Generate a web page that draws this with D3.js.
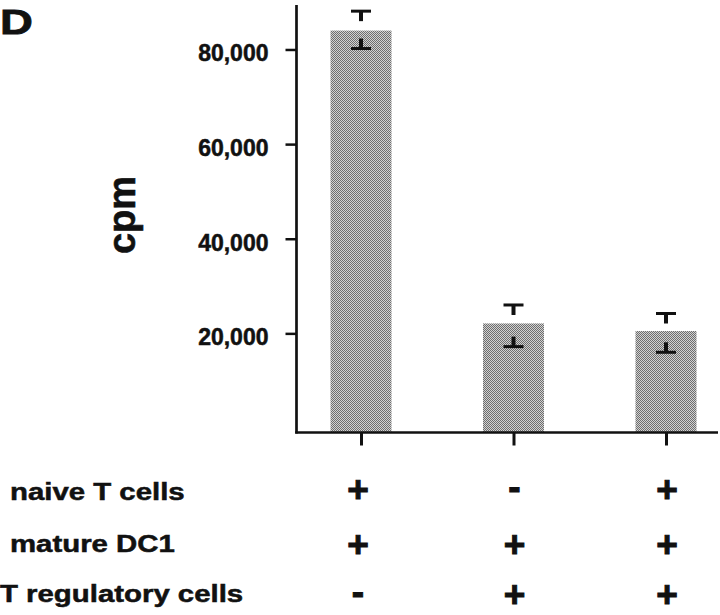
<!DOCTYPE html>
<html><head><meta charset="utf-8">
<script src="https://cdn.jsdelivr.net/npm/d3@7"></script>
<style>body{margin:0;background:#fff} svg{display:block}</style>
</head><body>
<svg id="chart" width="720" height="615"></svg>
<script>
// ---- data ----
const categories = ["group1", "group2", "group3"];
const cpmValues = [84000, 22100, 20500];
const errHigh = [88100, 26000, 24200];
const errLow = [80200, 17200, 16000];
const yTicks = [20000, 40000, 60000, 80000];
const rowLabels = ["naive T cells", "mature DC1", "T regulatory cells"];
const rowSymbols = [["+", "-", "+"], ["+", "+", "+"], ["-", "+", "+"]];
const panelLabel = "D";
const yTitle = "cpm";

// ---- layout ----
const svg = d3.select("#chart");
const font = "'Liberation Sans', Arial, Helvetica, sans-serif";
const ink = "#111";
const axisX = 296.5;
const y = d3.scaleLinear().domain([0, 89400]).range([428, 5]);
const x = d3.scalePoint().domain(categories).range([361, 666]);
const barW = 61;
const baseY = 432.5;

// pattern (halftone grey)
const defs = svg.append("defs");
const pat = defs.append("pattern").attr("id", "half").attr("width", 2).attr("height", 2)
  .attr("patternUnits", "userSpaceOnUse");
pat.append("rect").attr("width", 2).attr("height", 2).attr("fill", "#d2d2d2");
pat.append("rect").attr("width", 1).attr("height", 1).attr("fill", "#6e6e6e");
pat.append("rect").attr("x", 1).attr("y", 1).attr("width", 1).attr("height", 1).attr("fill", "#6e6e6e");

// bars
svg.append("g").selectAll("rect").data(categories).join("rect")
  .attr("x", (d) => x(d) - barW / 2)
  .attr("width", barW)
  .attr("y", (d, i) => y(cpmValues[i]))
  .attr("height", (d, i) => baseY - y(cpmValues[i]))
  .attr("fill", "url(#half)");

// error bars (T shapes)
const eg = svg.append("g").attr("stroke", ink);
categories.forEach((c, i) => {
  const cx = x(c);
  const hi = y(errHigh[i]), lo = y(errLow[i]);
  eg.append("line").attr("x1", cx - 10).attr("x2", cx + 10).attr("y1", hi).attr("y2", hi).attr("stroke-width", 3);
  eg.append("line").attr("x1", cx).attr("x2", cx).attr("y1", hi).attr("y2", hi + 10).attr("stroke-width", 4);
  eg.append("line").attr("x1", cx - 10).attr("x2", cx + 10).attr("y1", lo).attr("y2", lo).attr("stroke-width", 3);
  eg.append("line").attr("x1", cx).attr("x2", cx).attr("y1", lo).attr("y2", lo - 10).attr("stroke-width", 4);
});

// y axis
const yAxis = d3.axisLeft(y).tickValues(yTicks).tickSize(11).tickPadding(17)
  .tickFormat(d3.format(","));
const yg = svg.append("g").attr("transform", `translate(${axisX},0)`).call(yAxis);
yg.select(".domain").remove();
yg.selectAll(".tick line").attr("stroke", ink).attr("stroke-width", 2.5);
yg.selectAll(".tick text").attr("dy", "0.5em").attr("font-family", font)
  .attr("font-weight", "bold").attr("font-size", 23).attr("fill", ink)
  .attr("stroke", ink).attr("stroke-width", 0.5);
svg.append("line").attr("x1", axisX).attr("x2", axisX).attr("y1", y.range()[1]).attr("y2", baseY + 1)
  .attr("stroke", ink).attr("stroke-width", 2.7);

// x axis
const xAxis = d3.axisBottom(x).tickSize(13).tickFormat("");
const xg = svg.append("g").attr("transform", `translate(0,${baseY})`).call(xAxis);
xg.select(".domain").remove();
xg.selectAll(".tick line").attr("stroke", ink).attr("stroke-width", 3);
svg.append("line").attr("x1", axisX - 1.3).attr("x2", 718).attr("y1", baseY).attr("y2", baseY)
  .attr("stroke", ink).attr("stroke-width", 2.6);

// y title
svg.append("text").attr("transform", "translate(135,215) rotate(-90)")
  .attr("text-anchor", "middle").attr("font-family", font).attr("font-weight", "bold")
  .attr("font-size", 38).attr("fill", ink).attr("stroke", ink).attr("stroke-width", 0.6).text(yTitle);

// panel label
svg.append("text").attr("transform", "translate(0,34) scale(1.3,1)")
  .attr("font-family", font).attr("font-weight", "bold").attr("font-size", 35)
  .attr("fill", ink).attr("stroke", ink).attr("stroke-width", 0.8).text(panelLabel);

// condition rows
const labelBase = [499.5, 552, 601.5];
const symCenter = [489, 544, 594];
const labelX = [10, 10, 0];
rowLabels.forEach((lab, r) => {
  svg.append("text").attr("transform", `translate(${labelX[r]},${labelBase[r]}) scale(1.25,1)`)
    .attr("font-family", font).attr("font-weight", "bold").attr("font-size", 23.5)
    .attr("fill", ink).attr("stroke", ink).attr("stroke-width", 0.5).text(lab);
  rowSymbols[r].forEach((s, c) => {
    svg.append("text").attr("x", x(categories[c]) + (c === 0 ? -3 : 1))
      .attr("y", symCenter[r]).attr("dy", s === "+" ? "0.355em" : "0.27em")
      .attr("text-anchor", "middle").attr("font-family", font).attr("font-weight", "bold")
      .attr("font-size", 37).attr("fill", ink).attr("stroke", ink).attr("stroke-width", 1).text(s);
  });
});
</script>
</body></html>
